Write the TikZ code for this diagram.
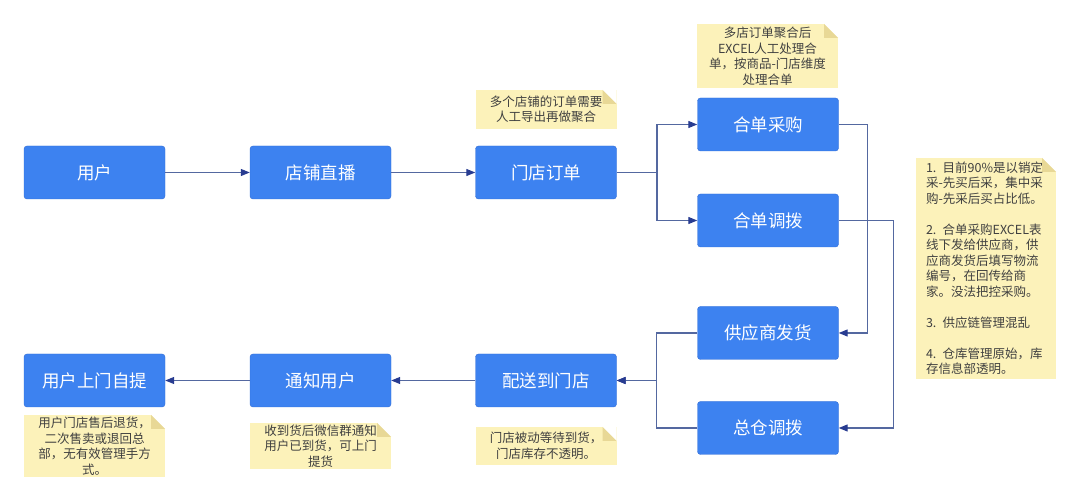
\documentclass[tikz,border=0pt]{standalone}
\usepackage{fontspec}
\setmainfont{Noto Sans CJK SC}
\usetikzlibrary{arrows.meta}
\definecolor{boxblue}{RGB}{61,130,240}
\definecolor{boxedge}{RGB}{50,108,212}
\definecolor{linecol}{RGB}{84,104,160}
\definecolor{tipcol}{RGB}{40,60,145}
\definecolor{notebg}{RGB}{252,242,186}
\definecolor{notefold}{RGB}{232,216,150}
\newcommand{\bigtxt}{\fontsize{17.5}{21}\selectfont}
\newcommand{\smalltxt}{\fontsize{12.5}{15.5}\selectfont}

\begin{document}
\begin{tikzpicture}[x=1pt,y=-1pt,
    box/.style={draw=boxedge, fill=boxblue, rounded corners=3pt, minimum width=141pt,
      minimum height=53pt, inner sep=0pt, text=white, font=\bigtxt},
    note/.style={fill=notebg, text=black!75, font=\smalltxt, align=center, inner sep=0pt,
      minimum width=141pt,
      path picture={
        \fill[white] ([xshift=-14pt]path picture bounding box.north east)
          -- (path picture bounding box.north east)
          -- ([yshift=-14pt]path picture bounding box.north east) -- cycle;
        \fill[notefold] ([xshift=-14pt]path picture bounding box.north east)
          -- ([xshift=-14pt,yshift=-14pt]path picture bounding box.north east)
          -- ([yshift=-14pt]path picture bounding box.north east) -- cycle;}},
    link/.style={draw=linecol, line width=1.2pt, -{Triangle[length=9pt,width=7pt,color=tipcol]}}]
    \useasboundingbox (0,0) rectangle (1080,502);
    % main flow
    \node[box] (U)  at (94.5,172.5) {用户};
    \node[box] (ZB) at (320.5,172.5) {店铺直播};
    \node[box] (DD) at (546,172.5) {门店订单};
    \node[box] (HC) at (768,124.5) {合单采购};
    \node[box] (HD) at (768,220.5) {合单调拨};
    \node[box] (GY) at (768,333) {供应商发货};
    \node[box] (ZC) at (768,428) {总仓调拨};
    \node[box] (PS) at (546,380.5) {配送到门店};
    \node[box] (TZ) at (320.5,380.5) {通知用户};
    \node[box] (ZT) at (94.5,380.5) {用户上门自提};
    % notes
    \node[note, minimum height=39pt] (N1) at (546,109.5) {多个店铺的订单需要\\人工导出再做聚合};
    \node[note, minimum height=64pt] (N2) at (767.5,56) {多店订单聚合后\\EXCEL人工处理合\\单，按商品-门店维度\\处理合单};
    \node[note, minimum height=221pt, minimum width=140pt, align=left, text width=120pt,
      inner xsep=10pt] (N3) at (986,268.5)
      {1. 目前90\%是以销定\\采-先买后采，集中采\\购-先采后买占比低。\\[15.5pt]
       2. 合单采购EXCEL表\\线下发给供应商，供\\应商发货后填写物流\\编号，在回传给商\\家。没法把控采购。\\[15.5pt]
       3. 供应链管理混乱\\[15.5pt]
       4. 仓库管理原始，库\\存信息部透明。};
    \node[note, minimum height=62pt] (N4) at (94.5,446) {用户门店售后退货，\\二次售卖或退回总\\部，无有效管理手方\\式。};
    \node[note, minimum height=46pt] (N5) at (320.5,446) {收到货后微信群通知\\用户已到货，可上门\\提货};
    \node[note, minimum height=38pt] (N6) at (546,446) {门店被动等待到货，\\门店库存不透明。};
    % connectors
    \coordinate (F1) at (657,172.5);
    \path[link] (U) edge (ZB);
    \path[link] (ZB) edge (DD);
    \draw[draw=linecol, line width=1.2pt] (DD.east) -- (F1);
    \draw[link] (F1) |- (HC.west);
    \draw[link] (F1) |- (HD.west);
    \draw[link] (HC.east) -- ++(29,0) |- (GY.east);
    \draw[link] (HD.east) -- ++(55,0) |- (ZC.east);
    \draw[link] (GY.west) -- ++(-41,0) |- (PS.east);
    \draw[link] (ZC.west) -- ++(-41,0) |- (PS.east);
    \path[link] (PS) edge (TZ);
    \path[link] (TZ) edge (ZT);
\end{tikzpicture}
\end{document}
